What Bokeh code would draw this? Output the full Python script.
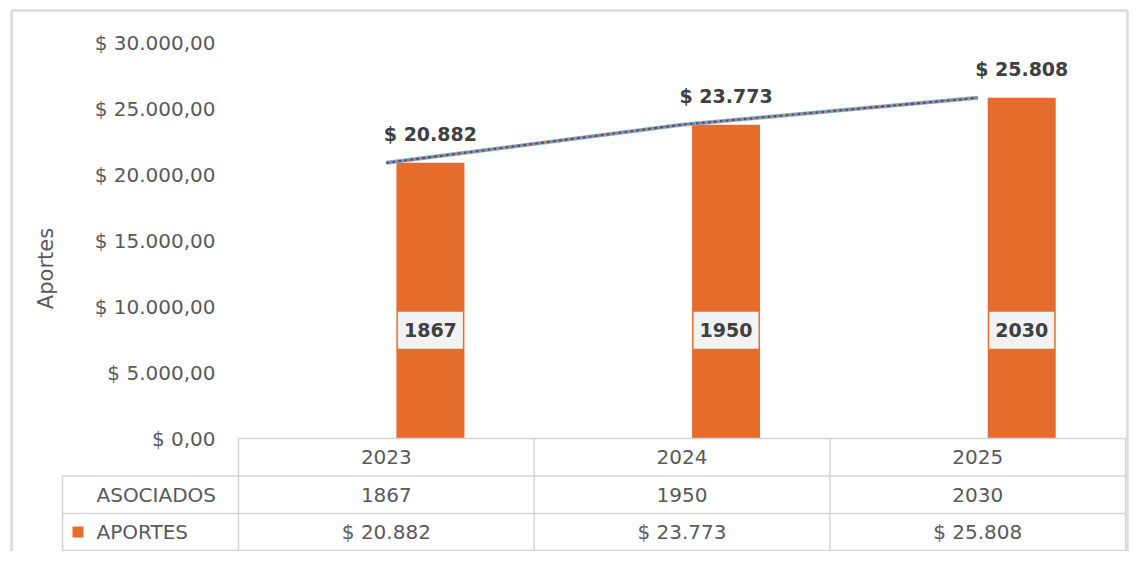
import math
from bokeh.plotting import figure
from bokeh.models import Range1d, ColumnDataSource
from bokeh.embed import file_html
from bokeh.resources import INLINE
from bokeh.core.properties import value

# ---------------- data ----------------
years = ["2023", "2024", "2025"]
asociados = [1867, 1950, 2030]
aportes = [20882, 23773, 25808]
aportes_labels = ["$ 20.882", "$ 23.773", "$ 25.808"]
y_ticks = [0, 5000, 10000, 15000, 20000, 25000, 30000]
y_tick_labels = ["$ 0,00", "$ 5.000,00", "$ 10.000,00", "$ 15.000,00",
                 "$ 20.000,00", "$ 25.000,00", "$ 30.000,00"]
row_names = ["ASOCIADOS", "APORTES"]
y_title = "Aportes"

# ---------------- layout (pixels, relative to figure origin) ----------------
W, H = 1129, 551
PLOT_L, PLOT_R = 238, 1125        # category area left / right
ZERO_PY, TOP_PY = 438, 42         # pixel of y=0 and y=30000
CAT_PX = (PLOT_R - PLOT_L) / len(years)
V_PX = (ZERO_PY - TOP_PY) / y_ticks[-1]


def xd(px):
    return -0.5 + (px - PLOT_L) / CAT_PX


def yd(py):
    return (ZERO_PY - py) / V_PX


ORANGE = "#E66C2C"
TXT = "#595959"
DARK = "#404040"
GRIDC = "#D4D4D4"
FONT = value("DejaVu Sans")

idx = list(range(len(years)))
BAR_OFF = 0.149
BAR_W = 0.23

p = figure(width=W, height=H, output_backend="svg", toolbar_location=None,
           x_range=Range1d(xd(0), xd(W)), y_range=Range1d(yd(H), yd(0)),
           x_axis_location=None, y_axis_location=None,
           min_border_left=0, min_border_right=0,
           min_border_top=0, min_border_bottom=0)
p.grid.visible = False
p.outline_line_color = None
p.background_fill_color = "white"
p.border_fill_color = "white"

# outer chart border (left, top, right)
p.segment(x0=[xd(11), xd(11), xd(1127)], y0=[yd(10), yd(10), yd(10)],
          x1=[xd(11), xd(1127), xd(1127)], y1=[yd(H), yd(10), yd(H)],
          line_color="#DADADA", line_width=2.5)

# bars
src = ColumnDataSource(dict(x=[i + BAR_OFF for i in idx], top=aportes,
                            lab=aportes_labels, aso=[str(a) for a in asociados]))
p.vbar(x="x", top="top", bottom=0, width=BAR_W, source=src,
       fill_color=ORANGE, line_color=None)

# line (dashed two-colour look)
p.line(idx, aportes, line_color="#7FB2E0", line_width=4)
p.line(idx, aportes, line_color="#35597C", line_width=2.2, line_dash="3 3")
p.line(idx, aportes, line_color="#C8785A", line_width=2.2, line_dash="3 3",
       line_dash_offset=3)

# labels above bars
p.text(x="x", y="top", text="lab", source=src, text_font=FONT,
       text_font_size="19px", text_font_style="bold", text_color=DARK,
       text_align="center", text_baseline="middle", y_offset=-29)

# asociados labels inside bars
p.rect(x="x", y=8200, width=0.22, height=37, height_units="screen", source=src,
       fill_color="#F1F2F3", line_color=None)
p.text(x="x", y=8200, text="aso", source=src, text_font=FONT,
       text_font_size="19px", text_font_style="bold", text_color=DARK,
       text_align="center", text_baseline="middle")

# y tick labels
p.text(x=[xd(215)] * len(y_ticks), y=y_ticks, text=y_tick_labels, text_font=FONT,
       text_font_size="20px", text_color=TXT, text_align="right",
       text_baseline="middle")

# y title
p.text(x=[xd(45)], y=[yd(268)], text=[y_title], angle=math.pi / 2,
       text_font=FONT, text_font_size="21px", text_color=TXT,
       text_align="center", text_baseline="middle")

# ---------------- data table ----------------
ROW_TOP = [438, 475.5, 513, 550]
x0s, y0s, x1s, y1s = [], [], [], []
x0s.append(-0.5); x1s.append(len(years) - 0.5)
y0s.append(yd(ROW_TOP[0])); y1s.append(yd(ROW_TOP[0]))
for r in ROW_TOP[1:]:
    x0s.append(xd(62)); x1s.append(len(years) - 0.5)
    y0s.append(yd(r)); y1s.append(yd(r))
for k in range(len(years) + 1):
    x0s.append(k - 0.5); x1s.append(k - 0.5)
    y0s.append(yd(ROW_TOP[0])); y1s.append(yd(ROW_TOP[-1]))
x0s.append(xd(62)); x1s.append(xd(62))
y0s.append(yd(ROW_TOP[1])); y1s.append(yd(ROW_TOP[-1]))
p.segment(x0=x0s, y0=y0s, x1=x1s, y1=y1s, line_color=GRIDC, line_width=1.5)

row_c = [(ROW_TOP[i] + ROW_TOP[i + 1]) / 2 for i in range(3)]
p.text(x=idx, y=[yd(row_c[0])] * 3, text=years, text_font=FONT,
       text_font_size="20px", text_color=TXT, text_align="center",
       text_baseline="middle")
p.text(x=idx, y=[yd(row_c[1])] * 3, text=[str(a) for a in asociados],
       text_font=FONT, text_font_size="20px", text_color=TXT,
       text_align="center", text_baseline="middle")
p.text(x=idx, y=[yd(row_c[2])] * 3, text=aportes_labels, text_font=FONT,
       text_font_size="20px", text_color=TXT, text_align="center",
       text_baseline="middle")
p.text(x=[xd(96)] * 2, y=[yd(row_c[1]), yd(row_c[2])], text=row_names,
       text_font=FONT, text_font_size="20px", text_color=TXT,
       text_align="left", text_baseline="middle")
p.scatter(x=[xd(77.5)], y=[yd(row_c[2])], marker="square", size=11,
          fill_color=ORANGE, line_color=None)

open("out.html", "w").write(file_html(p, INLINE))
